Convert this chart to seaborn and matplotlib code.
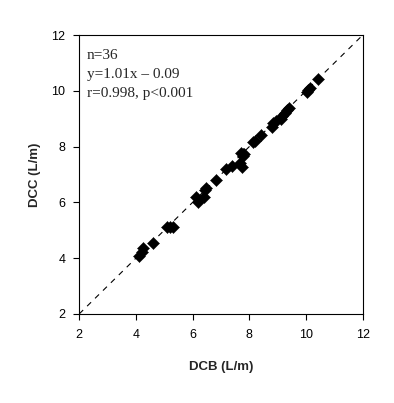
import numpy as np
import pandas as pd
import matplotlib
matplotlib.use("Agg")
import matplotlib.pyplot as plt
import seaborn as sns

# DCB vs DCC readings (L/m)
dcb = [4.11, 4.20, 4.24, 4.61, 5.10, 5.20, 5.30, 6.12, 6.20, 6.40, 6.44, 6.47,
       6.82, 7.18, 7.40, 7.67, 7.73, 7.72, 7.76, 7.80, 7.78, 8.12, 8.20, 8.41,
       8.79, 8.85, 8.94, 9.12, 9.16, 9.26, 9.34, 9.41, 10.02, 10.08, 10.14, 10.44]
dcc = [4.08, 4.23, 4.35, 4.53, 5.10, 5.10, 5.10, 6.20, 6.00, 6.18, 6.44, 6.50,
       6.80, 7.18, 7.30, 7.40, 7.28, 7.78, 7.73, 7.73, 7.66, 8.18, 8.21, 8.40,
       8.71, 8.83, 8.93, 8.98, 9.10, 9.22, 9.31, 9.40, 9.97, 10.03, 10.09, 10.41]
ticks = [2, 4, 6, 8, 10, 12]
stats_lines = ["n=36", "y=1.01x \u2013 0.09", "r=0.998, p<0.001"]

df = pd.DataFrame({"DCB": dcb, "DCC": dcc})

sns.set_style("ticks")
plt.rcParams["font.family"] = ["Liberation Sans", "DejaVu Sans"]

fig = plt.figure(figsize=(3.94, 4.03), dpi=100)
ax = fig.add_axes([0.201, 0.221, 0.7196, 0.692])

ax.plot([2, 12], [2, 12], color="black", lw=0.8, ls=(0, (5, 5)), zorder=1)
sns.scatterplot(data=df, x="DCB", y="DCC", marker="D", color="black",
                s=38, edgecolor="black", linewidth=0.3, ax=ax, zorder=2)

ax.set_xlim(2, 12)
ax.set_ylim(2, 12)
ax.set_xticks(ticks)
ax.set_yticks(ticks)
ax.tick_params(direction="out", length=4, width=0.8, labelsize=9, colors="black")
ax.tick_params(axis="x", pad=7)
ax.tick_params(axis="y", pad=6)
for sp in ax.spines.values():
    sp.set_visible(True)
    sp.set_color("black")
    sp.set_linewidth(0.8)

ax.set_xlabel("DCB (L/m)", fontsize=9.5, fontweight="bold", va="center")
ax.set_ylabel("DCC (L/m)", fontsize=9.5, fontweight="bold", va="center")
ax.xaxis.set_label_coords(0.5, -0.19)
ax.yaxis.set_label_coords(-0.157, 0.5)

# stats block, one line per text so baselines sit where the picture has them
for line, yb in zip(stats_lines, [0.914, 0.846, 0.778]):
    ax.text(0.027, yb, line, transform=ax.transAxes, va="baseline", ha="left",
            fontsize=11, family=["Liberation Serif", "DejaVu Serif"])

fig.savefig("out.png", dpi=100)
